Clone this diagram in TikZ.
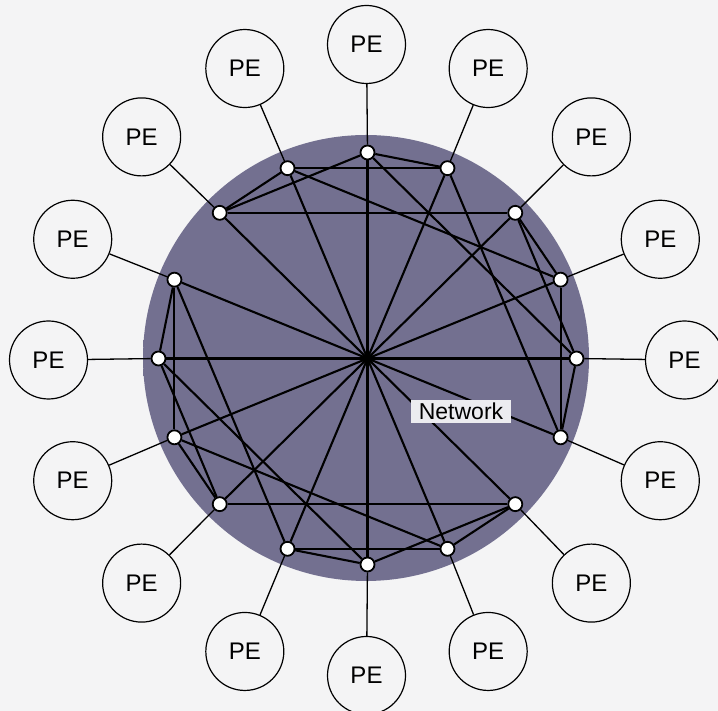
\documentclass[tikz,border=0pt]{standalone}
\usepackage{fontspec}
\setmainfont{Liberation Sans}
\usetikzlibrary{calc}
\definecolor{bgc}{HTML}{F4F4F5}
\definecolor{diskin}{HTML}{737090}
\definecolor{diskout}{HTML}{93929B}
\definecolor{labelbg}{HTML}{ECECF0}
\pgfdeclareradialshading{diskshade}{\pgfpointorigin}{color(0bp)=(diskin); color(36bp)=(diskin); color(50bp)=(diskout)}
\pgfdeclarelayer{bglayer}
\pgfdeclarelayer{edgelayer}
\pgfsetlayers{bglayer,edgelayer,main}
\begin{document}
\begin{tikzpicture}[x=1pt,y=1pt,
  pe/.style={circle, draw, line width=1.2pt, fill=bgc, minimum size=78pt, inner sep=0pt, font=\fontsize{24}{26}\selectfont},
  sw/.style={circle, draw, line width=1.8pt, fill=white, minimum size=14pt, inner sep=0pt},
  link/.style={line width=2.1pt},
  spoke/.style={line width=1.3pt},
  lbl/.style={fill=labelbg, inner xsep=8pt, inner ysep=3.5pt, text height=16.5pt, text depth=0pt, font=\fontsize{23}{25}\selectfont}]
\begin{pgfonlayer}{bglayer}
\fill[bgc] (0,0) rectangle (718,711);
\shade[shading=diskshade] (366,353) circle (223);
\end{pgfonlayer}
\useasboundingbox (0,0) rectangle (718,711);
\foreach \k in {0,...,15} {
  \pgfmathsetmacro\ang{90+22.5*\k}
  \node[sw] (n\k) at ({367.5+209*cos(\ang)}, {352.5+206*sin(\ang)}) {};
  \node[pe] (p\k) at ({366.5+318*cos(\ang)}, {351+315.5*sin(\ang)}) {PE};
}
\begin{pgfonlayer}{edgelayer}
\foreach \k in {0,...,15} \draw[spoke] (n\k) -- (p\k);
\foreach \a/\b in {0/8,1/9,2/10,3/11,4/12,5/13,6/14,7/15,
  0/15,0/2,0/12,1/2,1/15,1/13,2/14,3/4,3/5,3/7,4/6,4/8,5/6,5/9,
  6/10,7/8,7/9,8/10,9/10,11/12,11/13,11/15,12/14,13/14}
  \draw[link] (n\a) -- (n\b);
\end{pgfonlayer}
\node[lbl] (net) at (461,299.3) {Network};
\end{tikzpicture}
\end{document}
